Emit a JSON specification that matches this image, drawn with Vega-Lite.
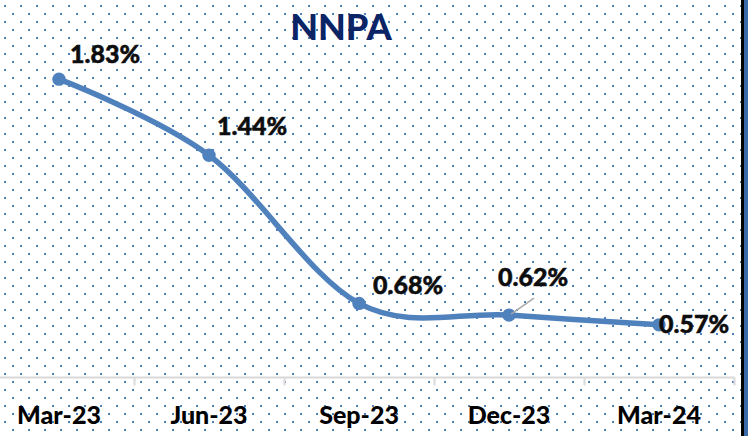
{
  "$schema": "https://vega.github.io/schema/vega-lite/v6.json",
  "width": 748,
  "height": 436,
  "autosize": {"type": "none"},
  "padding": 0,
  "background": "#ffffff",
  "view": {"stroke": null},
  "title": {"text": "NNPA", "anchor": "middle", "frame": "group", "dx": -33, "offset": -48, "fontSize": 36, "font": "Lato", "fontWeight": 900, "color": "#0b2466", "baseline": "top"},
  "data": {"values": [
    {"month": "Mar-23", "nnpa": 1.83, "label": "1.83%"},
    {"month": "Jun-23", "nnpa": 1.44, "label": "1.44%"},
    {"month": "Sep-23", "nnpa": 0.68, "label": "0.68%"},
    {"month": "Dec-23", "nnpa": 0.62, "label": "0.62%"},
    {"month": "Mar-24", "nnpa": 0.57, "label": "0.57%"}
  ]},
  "layer": [
    {
      "mark": {"type": "point", "opacity": 0},
      "encoding": {
        "y": {"datum": 0, "type": "quantitative",
          "scale": {"domain": [-0.75, 53.75], "nice": false, "zero": false},
          "axis": {"orient": "right", "tickCount": 55, "grid": true, "gridColor": "#4F81BD", "gridWidth": 2, "gridDash": [2, 14],
            "gridDashOffset": {"condition": {"test": "datum.value % 2 == 1", "value": 10}, "value": 2},
            "labels": false, "ticks": false, "domain": true, "domainColor": "#000000", "domainWidth": 3, "offset": -5.5, "translate": 0, "title": null}}
      }
    },
    {
      "mark": {"type": "point", "opacity": 0},
      "encoding": {
        "y": {"datum": 0, "type": "quantitative",
          "scale": {"domain": [0, 1], "nice": false, "zero": false},
          "axis": {"orient": "right", "grid": false, "labels": false, "ticks": false, "domain": true, "domainColor": "#3c69a8", "domainWidth": 4, "offset": -2, "translate": 0, "title": null}}
      }
    },
    {
      "encoding": {
        "x": {"field": "month", "type": "nominal", "sort": null,
          "scale": {"range": [-16, 734], "paddingInner": 0, "paddingOuter": 0},
          "axis": {"orient": "bottom", "offset": -59, "domainColor": "#d9d9d9", "domainWidth": 2, "tickColor": "#d9d9d9", "tickWidth": 2, "tickSize": 8, "bandPosition": 1, "labelFont": "Lato", "labelFontWeight": 900, "labelFontSize": 25, "labelColor": "#000000", "labelPadding": 18, "labelAngle": 0, "title": null, "grid": false}},
        "y": {"field": "nnpa", "type": "quantitative",
          "scale": {"domain": [0, 2.236], "nice": false, "zero": false},
          "axis": null}
      },
      "layer": [
        {"mark": {"type": "line", "interpolate": "cardinal", "color": "#4F81BD", "strokeWidth": 5.5}},
        {"mark": {"type": "point", "filled": true, "opacity": 1, "color": "#4F81BD", "size": 180}},
        {"transform": [{"filter": "datum.month == 'Dec-23'"}],
         "mark": {"type": "rule", "color": "#a6a6a6", "strokeWidth": 1.5, "xOffset": 2, "yOffset": -1, "x2Offset": 25, "y2Offset": -17},
         "encoding": {"x2": {"field": "month"}, "y2": {"field": "nnpa"}}},
        {"transform": [{"filter": "datum.month == 'Mar-23'"}],
         "mark": {"type": "text", "align": "left", "baseline": "alphabetic", "dx": 11, "dy": -16, "font": "Lato", "fontWeight": 900, "fontSize": 25, "color": "#0d0d0d", "stroke": "#0d0d0d", "strokeWidth": 0.5},
         "encoding": {"text": {"field": "label"}}},
        {"transform": [{"filter": "datum.month == 'Jun-23'"}],
         "mark": {"type": "text", "align": "left", "baseline": "alphabetic", "dx": 8, "dy": -20, "font": "Lato", "fontWeight": 900, "fontSize": 25, "color": "#0d0d0d", "stroke": "#0d0d0d", "strokeWidth": 0.5},
         "encoding": {"text": {"field": "label"}}},
        {"transform": [{"filter": "datum.month == 'Sep-23'"}],
         "mark": {"type": "text", "align": "left", "baseline": "alphabetic", "dx": 14, "dy": -9, "font": "Lato", "fontWeight": 900, "fontSize": 25, "color": "#0d0d0d", "stroke": "#0d0d0d", "strokeWidth": 0.5},
         "encoding": {"text": {"field": "label"}}},
        {"transform": [{"filter": "datum.month == 'Dec-23'"}],
         "mark": {"type": "text", "align": "left", "baseline": "alphabetic", "dx": -11, "dy": -29, "font": "Lato", "fontWeight": 900, "fontSize": 25, "color": "#0d0d0d", "stroke": "#0d0d0d", "strokeWidth": 0.5},
         "encoding": {"text": {"field": "label"}}},
        {"transform": [{"filter": "datum.month == 'Mar-24'"}],
         "mark": {"type": "text", "align": "left", "baseline": "alphabetic", "dx": 0, "dy": 8, "font": "Lato", "fontWeight": 900, "fontSize": 25, "color": "#0d0d0d", "stroke": "#0d0d0d", "strokeWidth": 0.5},
         "encoding": {"text": {"field": "label"}}}
      ]
    }
  ],
  "resolve": {"scale": {"y": "independent"}, "axis": {"y": "independent"}}
}
